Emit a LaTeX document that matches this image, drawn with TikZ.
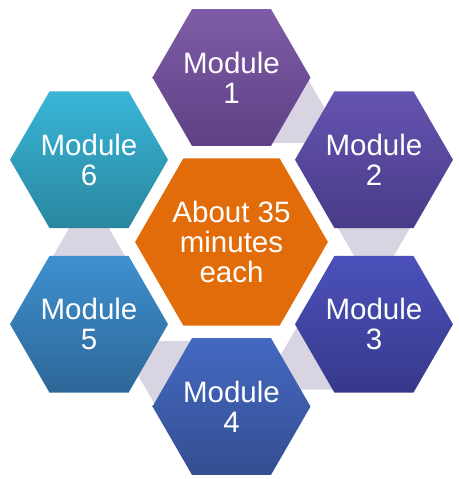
\documentclass[tikz,border=0pt]{standalone}
\usepackage{fontspec}
\setmainfont{Liberation Sans}
\usetikzlibrary{shapes.geometric,backgrounds,calc}

\definecolor{hubor}{HTML}{E36C0A}
\definecolor{linkgray}{HTML}{D8D4E2}
\definecolor{modAtop}{HTML}{7E5CA7}
\definecolor{modAbot}{HTML}{5E4184}
\definecolor{modBtop}{HTML}{6553B1}
\definecolor{modBbot}{HTML}{4A3B88}
\definecolor{modCtop}{HTML}{4C51BB}
\definecolor{modCbot}{HTML}{36398A}
\definecolor{modDtop}{HTML}{4469C2}
\definecolor{modDbot}{HTML}{344E91}
\definecolor{modEtop}{HTML}{3E90CF}
\definecolor{modEbot}{HTML}{2D6798}
\definecolor{modFtop}{HTML}{39B5D7}
\definecolor{modFbot}{HTML}{29869F}

\begin{document}
\begin{tikzpicture}[
  every node/.style={font=\fontsize{29.5}{30}\selectfont, text=white, align=center},
  hexa/.style={regular polygon, regular polygon sides=6, inner sep=0pt, minimum size=155pt},
  hub/.style={hexa, minimum size=189pt, fill=hubor},
  link/.style={regular polygon, regular polygon sides=6, inner sep=0pt, minimum size=72pt, fill=linkgray}
]
\useasboundingbox (-231.5pt,-237pt) rectangle (226.5pt,242pt);
\node[hub] (hub) at (0,0) {About 35\\minutes\\each};
\node[hexa, top color=modAtop, bottom color=modAbot] (m1) at (90:164.5pt) {Module\\1};
\node[hexa, top color=modBtop, bottom color=modBbot] (m2) at (30:164.5pt) {Module\\2};
\node[hexa, top color=modCtop, bottom color=modCbot] (m3) at (-30:164.5pt) {Module\\3};
\node[hexa, top color=modDtop, bottom color=modDbot] (m4) at (-90:164.5pt) {Module\\4};
\node[hexa, top color=modEtop, bottom color=modEbot] (m5) at (-150:164.5pt) {Module\\5};
\node[hexa, top color=modFtop, bottom color=modFbot] (m6) at (150:164.5pt) {Module\\6};
% gray links behind the ring
\begin{scope}[on background layer]
\node[link] (l12) at ($(m1)!0.415!(m2)$) {};
\node[link] (l23) at ($(m2)!0.415!(m3)$) {};
\node[link] (l34) at ($(m3)!0.415!(m4)$) {};
\node[link] (l45) at ($(m4)!0.415!(m5)$) {};
\node[link] (l56) at ($(m5)!0.415!(m6)$) {};
\end{scope}
\end{tikzpicture}
\end{document}
